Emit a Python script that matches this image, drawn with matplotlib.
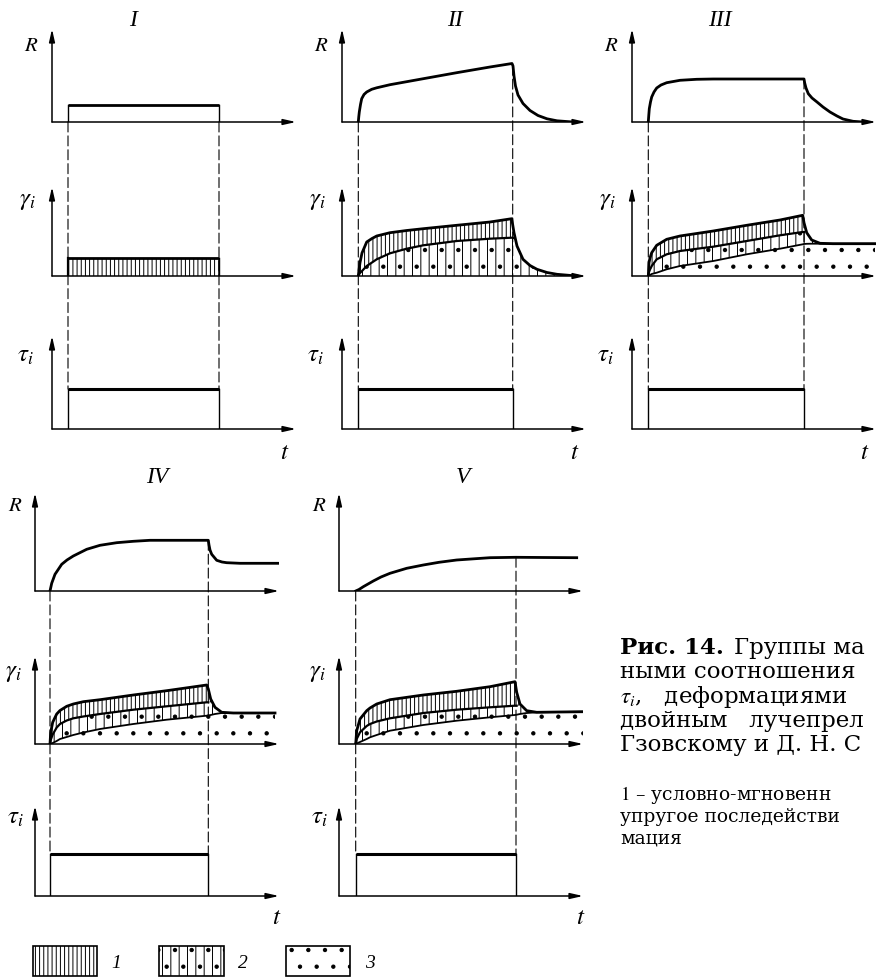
import numpy as np
import matplotlib
matplotlib.use("Agg")
import matplotlib.pyplot as plt
from matplotlib.patches import ConnectionPatch, Patch

plt.rcParams["hatch.linewidth"] = 0.7
plt.rcParams["mathtext.fontset"] = "stix"

# ---------------- data (time and responses in common arbitrary units) ----------------
PANELS = ["I", "II", "III", "IV", "V"]
T_ON = [1.6, 1.63, 1.63, 1.5, 1.67]        # load switched on
T_OFF = [16.7, 17.07, 17.2, 17.33, 17.7]   # load removed
TAU = [4.0, 4.0, 4.0, 4.2, 4.2]            # applied stress level

# group I: ideal elastic body
R1_LEVEL = 1.75
G1_LEVEL = 1.8

# birefringence R(t)
R2_T = [1.63, 1.68, 1.73, 1.85, 1.97, 2.2, 2.47, 2.97, 3.47, 4.8, 8.13, 11.47, 14.8, 17.0,
        17.1, 17.2, 17.35, 17.6, 18.1, 18.8, 19.6, 20.5, 21.5, 23.1]
R2_V = [0, 0.55, 1.0, 1.75, 2.33, 2.75, 3.0, 3.27, 3.42, 3.73, 4.33, 4.93, 5.5, 5.85,
        5.6, 4.6, 3.6, 2.7, 1.85, 1.15, 0.65, 0.32, 0.12, 0]
R3_T = [1.63, 1.68, 1.73, 1.85, 1.97, 2.2, 2.47, 2.9, 3.47, 4.8, 6.47, 8.13, 17.2, 17.27,
        17.4, 17.63, 18.0, 18.5, 19.1, 19.8, 20.5, 21.1, 22.1, 23.1]
R3_V = [0, 0.7, 1.33, 2.0, 2.5, 3.0, 3.4, 3.7, 3.93, 4.17, 4.27, 4.3, 4.3, 3.9,
        3.4, 2.83, 2.4, 2.0, 1.5, 1.0, 0.6, 0.3, 0.07, 0]
R4_T = [1.5, 1.6, 1.67, 2.0, 2.67, 3.2, 3.83, 5.17, 6.5, 8.17, 9.83, 11.5, 17.33, 17.4,
        17.5, 17.67, 18.17, 18.7, 19.17, 20.5, 24.67]
R4_V = [0, 0.45, 0.77, 1.67, 2.67, 3.1, 3.5, 4.17, 4.57, 4.83, 4.97, 5.07, 5.07, 4.6,
        4.1, 3.67, 3.07, 2.9, 2.83, 2.77, 2.77]
R5_T = [1.67, 2.0, 2.43, 3.43, 4.2, 5.1, 6.77, 8.43, 10.0, 11.77, 13.5, 15.1, 17.7, 20.5, 23.77]
R5_V = [0, 0.15, 0.43, 1.0, 1.4, 1.77, 2.27, 2.6, 2.87, 3.1, 3.22, 3.33, 3.37, 3.35, 3.33]

# strain gamma_i(t): total (top), boundary of instantaneous part (mid), flow part (bot)
G2_T = [1.63, 1.7, 1.8, 2.0, 2.47, 3.0, 3.47, 4.8, 6.47, 8.13, 11.47, 14.8, 16.97, 17.2,
        17.5, 18.1, 18.8, 19.5, 20.5, 21.5, 23.5]
G2_TOP = [0, 0.6, 1.33, 2.3, 3.4, 3.75, 4.0, 4.33, 4.55, 4.73, 5.07, 5.4, 5.73, 4.33,
          3.0, 1.67, 1.05, 0.67, 0.35, 0.17, 0]
G2_MID = [0, 0.15, 0.3, 0.5, 1.0, 1.35, 1.67, 2.27, 2.73, 3.07, 3.5, 3.73, 3.83, 3.8,
          3.0, 1.67, 1.05, 0.67, 0.35, 0.17, 0]

G3_T = [1.63, 1.7, 1.8, 1.97, 2.47, 3.47, 4.8, 6.47, 8.13, 11.47, 14.8, 17.07, 17.2,
        17.47, 17.97, 18.8, 20.1, 22.0, 24.3]
G3_TOP = [0, 1.33, 1.8, 2.33, 3.07, 3.67, 4.0, 4.25, 4.5, 5.07, 5.6, 6.07, 5.33,
          4.33, 3.6, 3.27, 3.23, 3.23, 3.23]
G3_MID = [0, 0.4, 0.65, 1.0, 1.67, 2.17, 2.5, 2.72, 2.93, 3.5, 4.07, 4.4, 4.4,
          4.33, 3.6, 3.27, 3.23, 3.23, 3.23]
G3_BOT = [0, 0.05, 0.1, 0.2, 0.33, 0.67, 1.0, 1.25, 1.5, 2.17, 2.73, 3.17, 3.2,
          3.22, 3.23, 3.23, 3.23, 3.23, 3.23]

G4_T = [1.5, 1.57, 1.77, 2.17, 2.5, 3.17, 3.83, 4.83, 6.5, 9.83, 13.17, 17.17, 17.33,
        17.57, 18.0, 18.67, 19.83, 22.0, 24.0]
G4_TOP = [0, 1.17, 2.17, 3.0, 3.35, 3.77, 4.0, 4.23, 4.43, 4.9, 5.33, 5.9, 5.5,
          4.5, 3.67, 3.17, 3.1, 3.1, 3.1]
G4_MID = [0, 0.4, 0.95, 1.65, 2.0, 2.35, 2.57, 2.75, 3.0, 3.43, 3.77, 4.17, 4.17,
          4.17, 3.67, 3.17, 3.1, 3.1, 3.1]
G4_BOT = [0, 0.03, 0.1, 0.3, 0.5, 0.7, 0.9, 1.15, 1.5, 2.0, 2.43, 2.83, 2.85,
          2.9, 3.0, 3.1, 3.1, 3.1, 3.1]

G5_T = [1.67, 1.77, 2.1, 2.77, 3.1, 3.77, 5.1, 8.43, 11.77, 15.1, 17.6, 17.77, 18.1,
        18.77, 19.77, 22.0, 24.6]
G5_TOP = [0, 1.33, 2.5, 3.33, 3.6, 4.0, 4.43, 4.9, 5.27, 5.73, 6.23, 5.17, 4.0,
          3.33, 3.17, 3.2, 3.23]
G5_MID = [0, 0.5, 1.17, 1.8, 2.0, 2.25, 2.57, 3.1, 3.43, 3.67, 3.83, 3.83, 3.83,
          3.33, 3.17, 3.2, 3.23]
G5_BOT = [0, 0.05, 0.2, 0.5, 0.67, 0.9, 1.33, 1.9, 2.33, 2.67, 2.9, 2.93, 3.0,
          3.1, 3.17, 3.2, 3.23]

LEGEND_LABELS = ["1", "2", "3"]
CAPTION_BOLD = "Рис. 14."
CAPTION_FIRST = "Группы ма"
CAPTION_LINES = ["ными соотношения", "$\\tau_i$,   деформациями", "двойным   лучепрел",
                 "Гзовскому и Д. Н. С"]
NOTE_LINES = ["$\\mathit{1}$ – условно-мгновенн", "упругое последействи", "мация"]

R_CURVES = [None, (R2_T, R2_V), (R3_T, R3_V), (R4_T, R4_V), (R5_T, R5_V)]
G_CURVES = [None, (G2_T, G2_TOP, G2_MID, None), (G3_T, G3_TOP, G3_MID, G3_BOT),
            (G4_T, G4_TOP, G4_MID, G4_BOT), (G5_T, G5_TOP, G5_MID, G5_BOT)]

# ---------------- layout ----------------
W, H = 877, 978
fig = plt.figure(figsize=(W / 100, H / 100), dpi=100)

AX_W = 244
ORIGIN_X = [52, 342, 632, 35, 339]
ROW = [0, 0, 0, 1, 1]
BASE_Y = [(123, 277, 430), (592, 745, 897)]
AX_H = [(93, 89, 93), (98, 88, 90)]
TITLE_XY = [(133, 20), (455, 20), (720, 20), (157, 478), (463, 478)]
LABEL_OFF = [
    [(-21, 78), (-25, 77), (-27, 75), (233, -22)],
    [(-20, 87), (-22, 73), (-20, 80), (242, -20)],
]
HATCH_1, HATCH_2, HATCH_3 = "||||", "||.", "."
LW_CURVE, LW_THIN, LW_AXIS = 2.0, 1.0, 1.1
DASH = (0, (9, 3.5))

ARROW = dict(arrowstyle="-|>,head_length=0.75,head_width=0.17", lw=LW_AXIS, color="k",
             shrinkA=0, shrinkB=0)


def make_axes(i, k):
    r = ROW[i]
    yb, h = BASE_Y[r][k], AX_H[r][k]
    ax = fig.add_axes([ORIGIN_X[i] / W, 1 - yb / H, AX_W / W, h / H])
    ax.set_xlim(0, AX_W / 10)
    ax.set_ylim(0, h / 10)
    ax.axis("off")
    ax.annotate("", xy=(1, 0), xytext=(0, 0), xycoords="axes fraction", arrowprops=ARROW,
                annotation_clip=False)
    ax.annotate("", xy=(0, 1), xytext=(0, 0), xycoords="axes fraction", arrowprops=ARROW,
                annotation_clip=False)
    return ax


def axis_label(ax, text, off, size):
    ax.annotate(text, xy=off, xycoords="axes pixels", ha="center", va="center",
                fontsize=size, annotation_clip=False)


def fill(ax, t, lo, hi, hatch):
    ax.fill_between(t, lo, hi, facecolor="white", edgecolor="black", hatch=hatch,
                    linewidth=0, zorder=1)


def link(ax_a, xa, ya, ax_b, xb, yb):
    con = ConnectionPatch(xyA=(xa, ya), coordsA=ax_a.transData, xyB=(xb, yb),
                          coordsB=ax_b.transData, color="k", lw=0.8, linestyle=DASH,
                          zorder=3)
    fig.add_artist(con)


for i, name in enumerate(PANELS):
    t_on, t_off, tau = T_ON[i], T_OFF[i], TAU[i]
    ax_r, ax_g, ax_t = (make_axes(i, k) for k in range(3))
    r = ROW[i]

    # birefringence
    if R_CURVES[i] is None:
        ax_r.plot([t_on, t_off], [R1_LEVEL, R1_LEVEL], color="k", lw=LW_CURVE,
                  solid_capstyle="butt")
        ax_r.plot([t_on, t_on], [0, R1_LEVEL], color="k", lw=LW_THIN)
        ax_r.plot([t_off, t_off], [0, R1_LEVEL], color="k", lw=LW_THIN)
        r_off = 0
    else:
        rt, rv = R_CURVES[i]
        ax_r.plot(rt, rv, color="k", lw=LW_CURVE, solid_joinstyle="round")
        r_off = np.interp(t_off, rt, rv)

    # strain
    if G_CURVES[i] is None:
        fill(ax_g, [t_on, t_off], [0, 0], [G1_LEVEL, G1_LEVEL], HATCH_1)
        ax_g.plot([t_on, t_off], [G1_LEVEL, G1_LEVEL], color="k", lw=LW_CURVE,
                  solid_capstyle="butt")
        ax_g.plot([t_on, t_on], [0, G1_LEVEL], color="k", lw=1.6)
        ax_g.plot([t_off, t_off], [0, G1_LEVEL], color="k", lw=LW_THIN)
    else:
        gt, top, mid, bot = G_CURVES[i]
        gt = np.asarray(gt)
        base = np.zeros_like(gt) if bot is None else np.asarray(bot)
        if bot is not None:
            fill(ax_g, gt, 0, base, HATCH_3)
        fill(ax_g, gt, base, mid, HATCH_2)
        fill(ax_g, gt, mid, top, HATCH_1)
        loading = gt <= t_off + 0.15
        if bot is not None:
            ax_g.plot(gt, bot, color="k", lw=1.3, zorder=2)
        ax_g.plot(gt[loading], np.asarray(mid)[loading], color="k", lw=1.6, zorder=2)
        ax_g.plot(gt, top, color="k", lw=LW_CURVE, zorder=2, solid_joinstyle="round")

    # stress
    ax_t.plot([t_on, t_off], [tau, tau], color="k", lw=2.2, solid_capstyle="butt")
    ax_t.plot([t_on, t_on], [0, tau], color="k", lw=LW_THIN)
    ax_t.plot([t_off, t_off], [0, tau], color="k", lw=LW_THIN)

    # moments of loading and unloading carried through the three graphs
    link(ax_r, t_on, 0, ax_t, t_on, tau)
    link(ax_r, t_off, r_off, ax_t, t_off, tau)

    offs = LABEL_OFF[r]
    axis_label(ax_r, "$R$", offs[0], 15)
    axis_label(ax_g, "$\\gamma_i$", offs[1], 18)
    axis_label(ax_t, "$\\tau_i$", offs[2], 18)
    axis_label(ax_t, "$t$", offs[3], 18)

    tx, ty = TITLE_XY[i]
    fig.text(tx / W, 1 - ty / H, name, ha="center", va="center", fontsize=17,
             family="Liberation Serif", style="italic")

# pattern key
handles = [Patch(facecolor="white", edgecolor="black", hatch=h, lw=1.2)
           for h in (HATCH_1, HATCH_2, HATCH_3)]
fig.legend(handles, LEGEND_LABELS, loc="lower left", bbox_to_anchor=(33 / W, 1 / H),
           ncol=3, frameon=False, borderpad=0, borderaxespad=0,
           handlelength=3.3, handleheight=2.0, handletextpad=0.75, columnspacing=1.95,
           prop=dict(family="Liberation Serif", style="italic", size=14))

# caption
CAP_X = 620
CAP_Y = [648, 672, 697, 721, 745]
NOTE_Y = [795, 817, 839]
cap_font = dict(family="DejaVu Serif", fontsize=16.5, va="center", ha="left")
bold = fig.text(CAP_X / W, 1 - CAP_Y[0] / H, CAPTION_BOLD, weight="bold", **cap_font)
fig.canvas.draw()
bb = bold.get_window_extent()
fig.text((bb.x1 + 10) / W, 1 - CAP_Y[0] / H, CAPTION_FIRST, **cap_font)
for line, y in zip(CAPTION_LINES, CAP_Y[1:]):
    fig.text(CAP_X / W, 1 - y / H, line, **cap_font)
note_font = dict(family="DejaVu Serif", fontsize=13.5, va="center", ha="left")
for line, y in zip(NOTE_LINES, NOTE_Y):
    fig.text(CAP_X / W, 1 - y / H, line, **note_font)

fig.savefig("out.png", dpi=100, facecolor="white")
